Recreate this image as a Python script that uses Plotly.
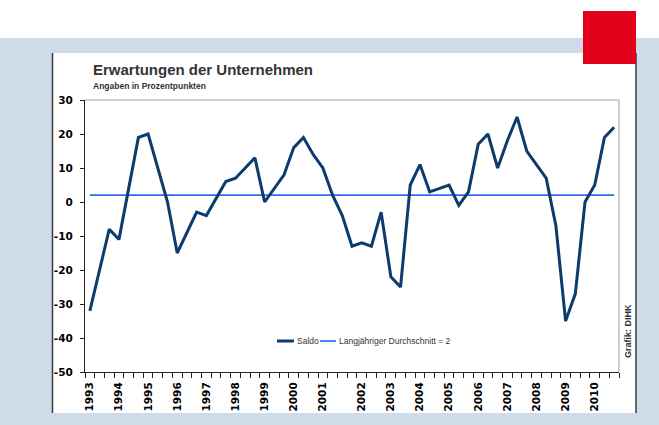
import plotly.graph_objects as go

# ---------------- data ----------------
years = [1993, 1994, 1995, 1996, 1997, 1998, 1999, 2000, 2001,
         2002, 2003, 2004, 2005, 2006, 2007, 2008, 2009, 2010]
surveys_per_year = [3, 3, 3, 3, 3, 3, 3, 3, 4, 3, 3, 3, 3, 3, 3, 3, 3, 3]
saldo = [-32, -20, -8, -11, 4, 19, 20, 10, 0, -15, -9, -3, -4, 1, 6, 7, 10, 13,
         0, 4, 8, 16, 19, 14, 10, 2, -4, -13, -12, -13, -3, -22, -25, 5, 11, 3,
         4, 5, -1, 3, 17, 20, 10, 18, 25, 15, 11, 7, -7, -35, -27, 0, 5, 19, 22]
long_term_average = 2
y_ticks = [-50, -40, -30, -20, -10, 0, 10, 20, 30]

title = "Erwartungen der Unternehmen"
subtitle = "Angaben in Prozentpunkten"
source = "Grafik: DIHK"
name_saldo = "Saldo"
name_avg = "Langjähriger Durchschnitt = 2"

# ---------------- derived ----------------
x_idx = list(range(len(saldo)))
tick_pos = []
pos = 0
for n in surveys_per_year:
    tick_pos.append(pos)
    pos += n
tick_text = [str(y) for y in years]

# ---------------- styles ----------------
W, H = 659, 425
PL, PR, PT, PB = 85, 619, 100, 372  # plot area in px
BAND = "#CFDBE8"
NAVY = "#0C3B6E"
BLUE = "#3468F2"
RED = "#E2001A"
TXT = "#333333"
SANS = "Liberation Sans, Arial, sans-serif"


def px(x):
    return (x - PL) / (PR - PL)


def py(y):
    return (PB - y) / (PB - PT)


fig = go.Figure()
fig.add_trace(go.Scatter(x=x_idx, y=[long_term_average] * len(saldo), mode="lines",
                         name=name_avg, line=dict(color=BLUE, width=1.7)))
fig.add_trace(go.Scatter(x=x_idx, y=saldo, mode="lines", name=name_saldo,
                         line=dict(color=NAVY, width=3)))

shapes = [
    # white strip at the top
    dict(type="rect", xref="paper", yref="paper", x0=px(0), x1=px(W), y0=py(0), y1=py(38),
         fillcolor="white", line=dict(width=0), layer="below"),
    # white panel
    dict(type="rect", xref="paper", yref="paper", x0=px(53), x1=px(636), y0=py(53), y1=py(413),
         fillcolor="white", line=dict(width=0), layer="below"),
    # panel side lines
    dict(type="line", xref="paper", yref="paper", x0=px(52.5), x1=px(52.5), y0=py(53), y1=py(413),
         line=dict(color="#3a3a3a", width=1.5), layer="below"),
    dict(type="line", xref="paper", yref="paper", x0=px(636), x1=px(636), y0=py(53), y1=py(413),
         line=dict(color="#3a3a3a", width=1.5), layer="below"),
    # grey frame top / right of plot area
    dict(type="line", xref="paper", yref="paper", x0=0, x1=1, y0=1, y1=1,
         line=dict(color="#BDBDBD", width=1.5), layer="above"),
    dict(type="line", xref="paper", yref="paper", x0=1, x1=1, y0=0, y1=1,
         line=dict(color="#BDBDBD", width=1.5), layer="above"),
    # red square
    dict(type="rect", xref="paper", yref="paper", x0=px(583), x1=px(636), y0=py(11), y1=py(64),
         fillcolor=RED, line=dict(width=0), layer="above"),
    # legend samples
    dict(type="line", xref="paper", yref="paper", x0=px(277), x1=px(294), y0=py(341), y1=py(341),
         line=dict(color=NAVY, width=3), layer="above"),
    dict(type="line", xref="paper", yref="paper", x0=px(320), x1=px(336), y0=py(341), y1=py(341),
         line=dict(color=BLUE, width=1.7), layer="above"),
]

annotations = [
    dict(text=title, xref="paper", yref="paper", x=px(91), y=py(70), xanchor="left",
         yanchor="middle", showarrow=False,
         font=dict(family=SANS, size=15, color=TXT, weight="bold")),
    dict(text=subtitle, xref="paper", yref="paper", x=px(91), y=py(85.5), xanchor="left",
         yanchor="middle", showarrow=False,
         font=dict(family=SANS, size=8.5, color=TXT, weight="bold")),
    dict(text=name_saldo, xref="paper", yref="paper", x=px(295), y=py(341), xanchor="left",
         yanchor="middle", showarrow=False,
         font=dict(family=SANS, size=8.5, color=TXT)),
    dict(text=name_avg, xref="paper", yref="paper", x=px(337), y=py(341), xanchor="left",
         yanchor="middle", showarrow=False,
         font=dict(family=SANS, size=8.5, color=TXT)),
    dict(text=source, xref="paper", yref="paper", x=px(628), y=py(331), xanchor="center",
         yanchor="middle", textangle=-90, showarrow=False,
         font=dict(family=SANS, size=9, color=TXT, weight="bold")),
]

fig.update_layout(
    width=W, height=H,
    margin=dict(l=PL, r=W - PR, t=PT, b=H - PB, pad=0),
    paper_bgcolor=BAND, plot_bgcolor="white",
    showlegend=False,
    shapes=shapes, annotations=annotations,
    xaxis=dict(range=[-0.5, len(saldo) - 0.5], tickmode="array", tickvals=tick_pos,
               ticktext=tick_text, tickangle=-90, ticks="", showgrid=False, zeroline=False,
               showline=True, linecolor="#222222", linewidth=1.2,
               ticklabelstandoff=5,
               tickfont=dict(family="DejaVu Sans, sans-serif", size=10.5, color="black",
                             weight="bold"),
               minor=dict(ticks="outside", ticklen=5, tickwidth=1, tickcolor="#222222",
                          tick0=-0.5, dtick=1, showgrid=False)),
    yaxis=dict(range=[y_ticks[0], y_ticks[-1]], tickmode="array", tickvals=y_ticks,
               ticktext=[str(v) for v in y_ticks], ticks="outside", ticklen=4, tickwidth=1,
               tickcolor="#222222", showgrid=False, zeroline=False, showline=True,
               linecolor="#222222", linewidth=1.2, ticklabelstandoff=5,
               tickfont=dict(family="DejaVu Sans, sans-serif", size=10.5, color="black",
                             weight="bold")),
)

fig.write_html("out.html")
